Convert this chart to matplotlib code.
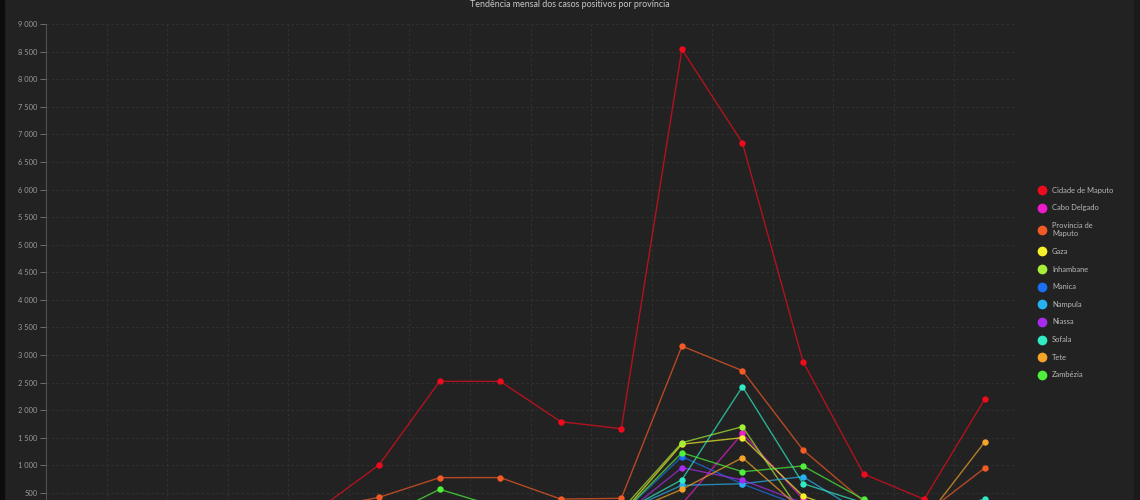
import matplotlib
matplotlib.use("Agg")
import matplotlib.pyplot as plt
import matplotlib.ticker as mticker
from matplotlib.lines import Line2D
from matplotlib.patches import Rectangle

plt.rcParams["font.family"] = ["Lato", "DejaVu Sans"]

# monthly positive cases per province
months = ["Mar 2020", "Abr 2020", "Mai 2020", "Jun 2020", "Jul 2020", "Ago 2020",
          "Set 2020", "Out 2020", "Nov 2020", "Dez 2020", "Jan 2021", "Fev 2021",
          "Mar 2021", "Abr 2021", "Mai 2021", "Jun 2021"]

cidade_maputo = [5, 20, 60, 120, 205, 1010, 2524, 2524, 1792, 1666, 8541, 6843, 2880, 845, 386, 2200]
cabo_delgado = [0, 2, 5, 10, 20, 40, 60, 80, 60, 80, 300, 1580, 390, 60, 20, 100]
provincia_maputo = [0, 5, 20, 60, 210, 422, 778, 780, 390, 404, 3163, 2717, 1280, 350, 110, 953]
gaza = [0, 0, 2, 5, 10, 30, 60, 80, 100, 120, 1385, 1503, 445, 60, 20, 80]
inhambane = [0, 0, 1, 3, 10, 25, 50, 70, 120, 190, 1412, 1702, 90, 40, 20, 60]
manica = [0, 0, 1, 2, 5, 15, 30, 60, 80, 120, 1160, 663, 250, 60, 20, 60]
nampula = [0, 1, 3, 10, 20, 30, 50, 80, 100, 150, 640, 668, 796, 120, 30, 100]
niassa = [0, 0, 1, 2, 5, 10, 20, 30, 40, 80, 960, 736, 320, 40, 10, 30]
sofala = [0, 1, 3, 10, 20, 40, 60, 90, 110, 140, 741, 2427, 670, 320, 100, 390]
tete = [0, 0, 2, 5, 10, 20, 40, 60, 80, 100, 567, 1140, 175, 60, 0, 1424]
zambezia = [0, 1, 3, 5, 10, 20, 567, 235, 100, 120, 1230, 886, 990, 385, 100, 200]

series = [
    ("Cidade de Maputo", cidade_maputo, "#ee0b1e"),
    ("Cabo Delgado", cabo_delgado, "#ec1ccb"),
    ("Província de\nMaputo", provincia_maputo, "#f45a26"),
    ("Gaza", gaza, "#f6f22a"),
    ("Inhambane", inhambane, "#a6ee38"),
    ("Manica", manica, "#1c6ef2"),
    ("Nampula", nampula, "#26b2f2"),
    ("Niassa", niassa, "#a82cf0"),
    ("Sofala", sofala, "#30ebc4"),
    ("Tete", tete, "#f6a428"),
    ("Zambézia", zambezia, "#4ef03c"),
]

BG = "#222222"
fig = plt.figure(figsize=(11.4, 5.0), dpi=100, facecolor=BG)
# plot area runs past the bottom edge, like in the reference screenshot
ax = fig.add_axes([46 / 1140, -0.0412, 969 / 1140, 0.9932])
ax.set_facecolor(BG)

x = range(len(months))
for name, vals, col in series:
    ax.plot(x, vals, color=col, lw=1.0, alpha=0.7, zorder=2)
    ax.plot(x, vals, ls="none", marker="o", ms=4.6, color=col, mec="none", zorder=3)

ax.set_xlim(-0.5, len(months) - 0.5)
ax.set_ylim(0, 9000)
ax.set_xticks(list(x))
ax.set_xticklabels(months)
ax.xaxis.set_minor_locator(mticker.FixedLocator([i - 0.5 for i in range(len(months) + 1)]))
ax.yaxis.set_major_locator(mticker.MultipleLocator(500))
# the month labels and the zero tick sit below the visible area in the screenshot
ax.yaxis.set_major_formatter(
    mticker.FuncFormatter(lambda v, p: f"{int(v):,}".replace(",", " ") if v > 0 else ""))

ax.tick_params(axis="y", colors="#7a7a7a", labelcolor="#9a9a9a", labelsize=5.4, length=4, width=0.6, pad=2)
ax.tick_params(axis="x", which="both", length=0, labelbottom=False)
ax.grid(axis="y", which="major", color="#333333", lw=0.6, ls=(0, (3, 3)))
ax.grid(axis="x", which="minor", color="#333333", lw=0.6, ls=(0, (3, 3)))
for s in ["top", "right", "bottom"]:
    ax.spines[s].set_visible(False)
ax.spines["left"].set_color("#555555")
ax.spines["left"].set_linewidth(0.7)

fig.text(570 / 1140, 1.0, "Tendência mensal dos casos positivos por província",
         ha="center", va="top", fontsize=6.4, color="#c8c8c8")

handles = [Line2D([], [], ls="none", marker="o", ms=7, color=c, mec="none") for _, _, c in series]
leg = fig.legend(handles, [n for n, _, _ in series], loc="upper left",
                 bbox_to_anchor=(1031 / 1140, 1 - 180 / 500), frameon=False,
                 fontsize=5.4, labelspacing=1.42, handlelength=1.0, handletextpad=0.9,
                 labelcolor="#b8b8b8")

# dark strips at the screenshot edges
fig.patches.append(Rectangle((0, 0), 4 / 1140, 1, transform=fig.transFigure, color="#0c0c0c"))
fig.patches.append(Rectangle((1134 / 1140, 0), 6 / 1140, 1, transform=fig.transFigure, color="#1a1a1a"))

fig.savefig("out.png", dpi=100, facecolor=BG)
